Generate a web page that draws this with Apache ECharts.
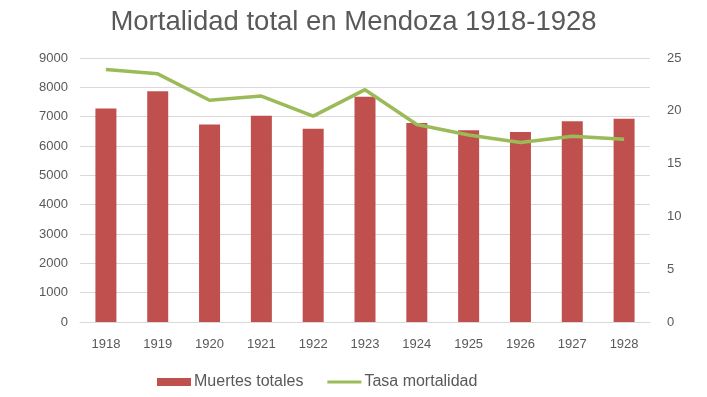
<!DOCTYPE html>
<html>
<head>
<meta charset="utf-8">
<script src="https://cdn.jsdelivr.net/npm/echarts@6/dist/echarts.min.js"></script>
<style>
  html, body { margin: 0; padding: 0; background: #fff; }
  #chart { width: 707px; height: 397px; }
</style>
</head>
<body>
<div id="chart"></div>
<script>
const years = ['1918', '1919', '1920', '1921', '1922', '1923', '1924', '1925', '1926', '1927', '1928']
const muertesTotales = [7280, 7870, 6730, 7030, 6590, 7680, 6780, 6540, 6480, 6840, 6930]
const tasaMortalidad = [23.9, 23.5, 21.0, 21.4, 19.5, 22.0, 18.7, 17.7, 17.0, 17.6, 17.3]

const chart = echarts.init(document.getElementById('chart'))

const labelStyle = {
  color: '#595959',
  fontSize: 13,
  fontFamily: 'Liberation Sans, Arial, sans-serif'
}

chart.setOption({
  animation: false,
  title: {
    text: 'Mortalidad total en Mendoza 1918-1928',
    left: 'center',
    top: 3,
    textStyle: {
      color: '#595959',
      fontSize: 27.5,
      fontWeight: 'normal',
      fontFamily: 'Liberation Sans, Arial, sans-serif'
    }
  },
  grid: { left: 80, right: 57, top: 58, bottom: 75 },
  legend: {
    bottom: 2,
    left: 152,
    itemGap: 24,
    itemWidth: 34,
    itemHeight: 8,
    textStyle: {
      color: '#595959',
      fontSize: 16,
      padding: [0, 0, 0, -2],
      fontFamily: 'Liberation Sans, Arial, sans-serif'
    },
    data: [
      { name: 'Muertes totales', icon: 'rect' },
      { name: 'Tasa mortalidad', icon: 'path://M0,0 L34,0 L34,3 L0,3 Z', itemStyle: { color: '#9BBB59' } }
    ]
  },
  xAxis: {
    type: 'category',
    data: years,
    axisLine: { lineStyle: { color: '#d9d9d9' } },
    axisTick: { show: false },
    axisLabel: Object.assign({ margin: 16 }, labelStyle)
  },
  yAxis: [
    {
      type: 'value',
      min: 0,
      max: 9000,
      interval: 1000,
      axisLine: { show: false },
      axisTick: { show: false },
      splitLine: { lineStyle: { color: '#d9d9d9' } },
      axisLabel: Object.assign({ margin: 12, formatter: v => String(v) }, labelStyle)
    },
    {
      type: 'value',
      min: 0,
      max: 25,
      interval: 5,
      axisLine: { show: false },
      axisTick: { show: false },
      splitLine: { show: false },
      axisLabel: Object.assign({ margin: 17 }, labelStyle)
    }
  ],
  series: [
    {
      name: 'Muertes totales',
      type: 'bar',
      yAxisIndex: 0,
      barWidth: 21,
      itemStyle: { color: '#C0504D' },
      data: muertesTotales
    },
    {
      name: 'Tasa mortalidad',
      type: 'line',
      yAxisIndex: 1,
      symbol: 'none',
      lineStyle: { color: '#9BBB59', width: 3.5 },
      itemStyle: { color: '#9BBB59' },
      data: tasaMortalidad
    }
  ]
})
</script>
</body>
</html>
